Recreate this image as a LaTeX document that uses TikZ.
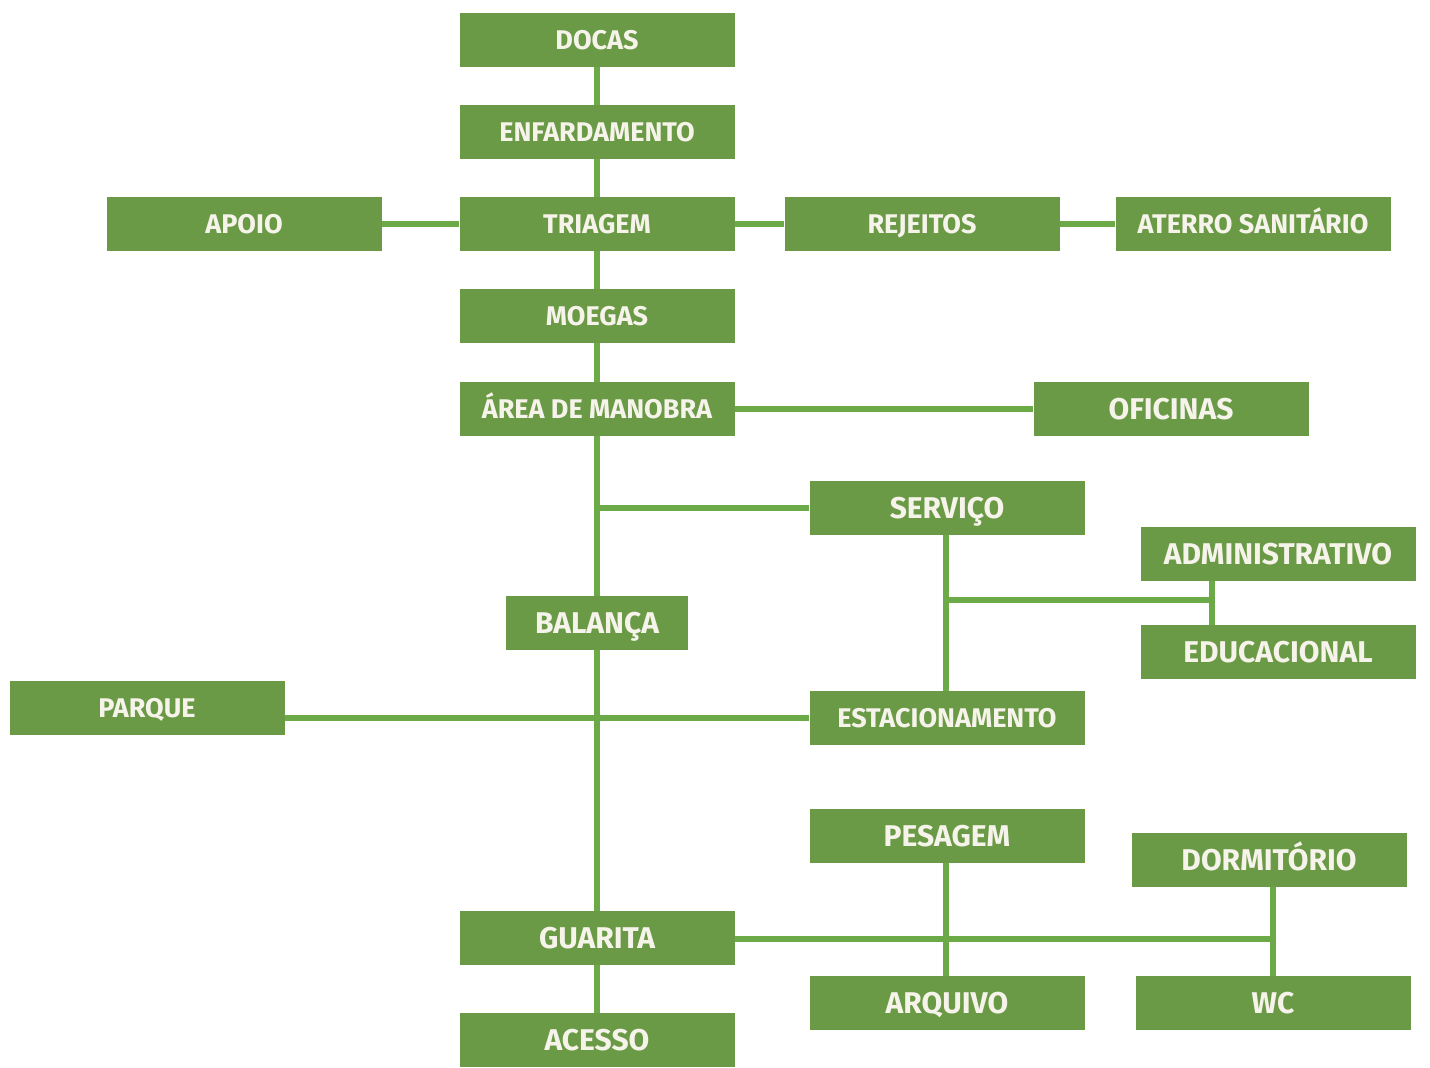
\documentclass[tikz,border=0pt]{standalone}
\usepackage{fontspec}
\setmainfont{Fira Sans}
\usetikzlibrary{backgrounds}
\definecolor{boxgreen}{HTML}{6A9A45}
\definecolor{linegreen}{HTML}{6CAA47}
\definecolor{txt}{HTML}{F6F3EA}
\tikzset{
  box/.style={fill=boxgreen, text=txt, minimum width=275pt, minimum height=54pt, inner sep=0pt,
    text height=18.6pt, text depth=0pt, font=\fontsize{27}{30}\selectfont\bfseries},
  bigbox/.style={box, text height=20.7pt, font=\fontsize{30}{33}\selectfont\bfseries},
  conn/.style={draw=linegreen, line width=5.5pt},
}
\begin{document}
\begin{tikzpicture}[x=1pt,y=-1pt]
\useasboundingbox (0,0) rectangle (1430,1068);
% main column
\node[box] (docas) at (597,40) {DOCAS};
\node[box] (enf) at (597,132) {ENFARDAMENTO};
\node[box] (triagem) at (597,224) {TRIAGEM};
\node[box] (apoio) at (244,224) {APOIO};
\node[box] (rejeitos) at (922,224) {REJEITOS};
\node[box] (aterro) at (1253,224) {ATERRO SANIT\'ARIO};
\node[box] (moegas) at (597,316) {MOEGAS};
\node[box] (area) at (597,409) {\'AREA DE MANOBRA};
\node[bigbox] (oficinas) at (1171,409) {OFICINAS};
\node[bigbox] (servico) at (947,508) {SERVI\c{C}O};
\node[bigbox] (admin) at (1278,554) {ADMINISTRATIVO};
\node[bigbox] (educ) at (1278,652) {EDUCACIONAL};
\node[bigbox, minimum width=182pt] (balanca) at (597,623) {BALAN\c{C}A};
\node[box] (parque) at (147,708) {PARQUE};
\node[box] (estac) at (947,718) {ESTACIONAMENTO};
\node[bigbox] (pesagem) at (947,836) {PESAGEM};
\node[bigbox] (dorm) at (1269,860) {DORMIT\'ORIO};
\node[bigbox] (guarita) at (597,938) {GUARITA};
\node[bigbox] (arquivo) at (947,1003) {ARQUIVO};
\node[bigbox] (wc) at (1273,1003) {WC};
\node[bigbox] (acesso) at (597,1040) {ACESSO};
% junctions
\coordinate (jserv) at (597,508);
\coordinate (js) at (946,600);
\coordinate (jae) at (1212,600);
\coordinate (jdw) at (1273,939);
\begin{scope}[on background layer]
\fill[white] (0,0) rectangle (1430,1068);
\draw[conn] (docas) -- (enf) -- (triagem) -- (moegas) -- (area) -- (balanca) -- (guarita) -- (acesso);
\draw[conn] (apoio) -- (triagem);
\draw[conn] (triagem) -- (rejeitos) -- (aterro);
\draw[conn] (area) -- (oficinas);
\draw[conn] (jserv) -- (servico.west);
\draw[conn] (servico.south -| js) -- (estac.north -| js);
\draw[conn] (js) -- (jae);
\draw[conn] (jae |- admin.south) -- (jae |- educ.north);
\draw[conn] (parque.east |- estac.west) -- (estac.west);
\draw[conn] (guarita.east |- jdw) -- (jdw);
\draw[conn] (jdw |- dorm.south) -- (jdw |- wc.north);
\draw[conn] (pesagem.south -| js) -- (arquivo.north -| js);
\end{scope}
\end{tikzpicture}
\end{document}
